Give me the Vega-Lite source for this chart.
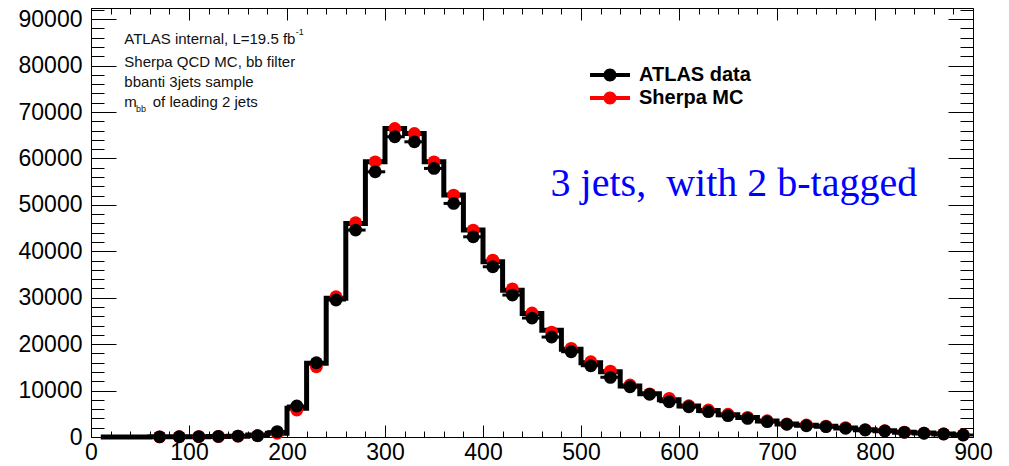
{
  "$schema": "https://vega.github.io/schema/vega-lite/v6.json",
  "width": 882,
  "height": 429,
  "autosize": "none",
  "padding": {"left": 91, "top": 8, "right": 36, "bottom": 29},
  "background": "white",
  "config": {
    "font": "Liberation Sans",
    "view": {"stroke": "black", "strokeWidth": 1},
    "axis": {"grid": false, "domainColor": "black", "tickColor": "black", "tickWidth": 1, "labelColor": "black", "labelFont": "Liberation Sans", "labelFontSize": 23, "title": null, "labelFlush": false, "labelOverlap": false}
  },
  "data": {"values": [
    {"m": 10, "hist": 0},
    {"m": 30, "hist": 0},
    {"m": 50, "hist": 0},
    {"m": 70, "data": 40, "mc": 30, "hist": 30},
    {"m": 90, "data": 60, "mc": 50, "hist": 50},
    {"m": 110, "data": 90, "mc": 80, "hist": 80},
    {"m": 130, "data": 130, "mc": 110, "hist": 110},
    {"m": 150, "data": 200, "mc": 180, "hist": 180},
    {"m": 170, "data": 280, "mc": 260, "hist": 430},
    {"m": 190, "data": 1150, "mc": 800, "hist": 800},
    {"m": 210, "data": 6670, "mc": 5810, "hist": 6170},
    {"m": 230, "data": 16000, "mc": 15140, "hist": 15870},
    {"m": 250, "data": 29500, "mc": 30200, "hist": 29860},
    {"m": 270, "data": 44570, "mc": 46140, "hist": 46000},
    {"m": 290, "data": 57120, "mc": 59270, "hist": 59270},
    {"m": 310, "data": 64660, "mc": 66460, "hist": 66460},
    {"m": 330, "data": 63580, "mc": 65380, "hist": 65380},
    {"m": 350, "data": 57850, "mc": 59270, "hist": 59270},
    {"m": 370, "data": 50310, "mc": 52100, "hist": 52100},
    {"m": 390, "data": 43120, "mc": 44570, "hist": 44570},
    {"m": 410, "data": 36670, "mc": 38110, "hist": 37750},
    {"m": 430, "data": 30570, "mc": 31900, "hist": 31600},
    {"m": 450, "data": 25620, "mc": 26700, "hist": 26600},
    {"m": 470, "data": 21530, "mc": 22600, "hist": 23000},
    {"m": 490, "data": 18360, "mc": 19100, "hist": 18880},
    {"m": 510, "data": 15350, "mc": 16200, "hist": 16000},
    {"m": 530, "data": 12850, "mc": 14200, "hist": 14060},
    {"m": 550, "data": 10830, "mc": 11200, "hist": 11000},
    {"m": 570, "data": 9190, "mc": 9300, "hist": 9300},
    {"m": 590, "data": 7600, "mc": 8330, "hist": 8000},
    {"m": 610, "data": 6520, "mc": 6740, "hist": 6700},
    {"m": 630, "data": 5450, "mc": 5810, "hist": 5700},
    {"m": 650, "data": 4590, "mc": 4890, "hist": 4800},
    {"m": 670, "data": 4020, "mc": 4240, "hist": 4200},
    {"m": 690, "data": 3300, "mc": 3510, "hist": 3450},
    {"m": 710, "data": 2730, "mc": 2800, "hist": 2800},
    {"m": 730, "data": 2430, "mc": 2580, "hist": 2550},
    {"m": 750, "data": 2220, "mc": 2350, "hist": 2300},
    {"m": 770, "data": 1870, "mc": 1990, "hist": 1950},
    {"m": 790, "data": 1510, "mc": 1600, "hist": 1580},
    {"m": 810, "data": 1290, "mc": 1350, "hist": 1330},
    {"m": 830, "data": 1010, "mc": 1050, "hist": 1050},
    {"m": 850, "data": 800, "mc": 850, "hist": 840},
    {"m": 870, "data": 650, "mc": 680, "hist": 670},
    {"m": 890, "data": 430, "mc": 450, "hist": 450}
  ]},
  "resolve": {"axis": {"x": "independent", "y": "independent"}},
  "layer": [
    {
      "mark": {"type": "line", "interpolate": "step", "color": "black", "strokeWidth": 5},
      "encoding": {
        "x": {"field": "m", "type": "quantitative", "scale": {"domain": [0, 900], "nice": false, "zero": false},
          "axis": {"orient": "bottom", "values": [0,20,40,60,80,100,120,140,160,180,200,220,240,260,280,300,320,340,360,380,400,420,440,460,480,500,520,540,560,580,600,620,640,660,680,700,720,740,760,780,800,820,840,860,880,900],
            "format": "d", "labelExpr": "datum.value % 100 === 0 ? datum.label : ''",
            "tickSize": {"condition": {"test": "datum.value % 100 === 0", "value": -12}, "value": -6},
            "labelPadding": 16}},
        "y": {"field": "hist", "type": "quantitative", "scale": {"domain": [0, 92400], "nice": false},
          "axis": {"orient": "left", "values": [0,2000,4000,6000,8000,10000,12000,14000,16000,18000,20000,22000,24000,26000,28000,30000,32000,34000,36000,38000,40000,42000,44000,46000,48000,50000,52000,54000,56000,58000,60000,62000,64000,66000,68000,70000,72000,74000,76000,78000,80000,82000,84000,86000,88000,90000,92000],
            "format": "d", "labelExpr": "datum.value % 10000 === 0 ? datum.label : ''",
            "tickSize": {"condition": {"test": "datum.value % 10000 === 0", "value": -25}, "value": -13},
            "labelPadding": 34}}
      }
    },
    {
      "mark": {"type": "tick", "orient": "horizontal", "color": "black", "opacity": 1, "thickness": 3, "size": 20},
      "encoding": {
        "x": {"field": "m", "type": "quantitative", "axis": null},
        "y": {"field": "data", "type": "quantitative", "axis": null}
      }
    },
    {
      "transform": [{"fold": ["data", "mc"], "as": ["series", "value"]}],
      "mark": {"type": "point", "filled": true, "opacity": 1, "strokeWidth": 0},
      "encoding": {
        "x": {"field": "m", "type": "quantitative",
          "axis": {"orient": "top", "labels": false, "domain": false, "values": [0,20,40,60,80,100,120,140,160,180,200,220,240,260,280,300,320,340,360,380,400,420,440,460,480,500,520,540,560,580,600,620,640,660,680,700,720,740,760,780,800,820,840,860,880,900],
            "tickSize": {"condition": {"test": "datum.value % 100 === 0", "value": -12}, "value": -6}}},
        "y": {"field": "value", "type": "quantitative",
          "axis": {"orient": "right", "labels": false, "domain": false, "values": [0,2000,4000,6000,8000,10000,12000,14000,16000,18000,20000,22000,24000,26000,28000,30000,32000,34000,36000,38000,40000,42000,44000,46000,48000,50000,52000,54000,56000,58000,60000,62000,64000,66000,68000,70000,72000,74000,76000,78000,80000,82000,84000,86000,88000,90000,92000],
            "tickSize": {"condition": {"test": "datum.value % 10000 === 0", "value": -25}, "value": -13}}},
        "color": {"field": "series", "type": "nominal",
          "scale": {"domain": ["data", "mc"], "range": ["#000000", "#ff0000"]},
          "legend": {"orient": "none", "legendX": 506, "legendY": 54, "title": null, "padding": 0,
            "symbolType": "M-1.538,-0.154H1.538V0.154H-1.538Z M-0.5,0A0.5,0.5,0,1,1,0.5,0A0.5,0.5,0,1,1,-0.5,0Z",
            "symbolSize": 676, "symbolStrokeWidth": 0, "symbolOpacity": 1,
            "labelFont": "Liberation Sans", "labelFontWeight": "bold", "labelFontSize": 20, "labelColor": "black",
            "labelOffset": 16, "rowPadding": 0,
            "labelExpr": "datum.label === 'data' ? 'ATLAS data' : 'Sherpa MC'"}},
        "size": {"value": 165},
        "order": {"field": "series", "sort": "descending"}
      }
    },
    {
      "data": {"values": [{"t": "3 jets,\u00a0 with 2 b-tagged"}]},
      "mark": {"type": "text", "font": "Liberation Serif", "fontSize": 40, "color": "#0000ff", "align": "left", "baseline": "middle"},
      "encoding": {
        "x": {"datum": 469, "type": "quantitative", "axis": null},
        "y": {"datum": 54500, "type": "quantitative", "axis": null},
        "text": {"field": "t"}
      }
    },
    {
      "data": {"values": [{"t": "ATLAS internal, L=19.5 fb"}]},
      "mark": {"type": "text", "fontSize": 15, "color": "#111111", "align": "left", "baseline": "middle"},
      "encoding": {
        "x": {"datum": 34, "type": "quantitative", "axis": null},
        "y": {"datum": 85700, "type": "quantitative", "axis": null},
        "text": {"field": "t"}
      }
    },
    {
      "data": {"values": [{"t": "-1"}]},
      "mark": {"type": "text", "fontSize": 9, "color": "#111111", "align": "left", "baseline": "middle"},
      "encoding": {
        "x": {"datum": 209, "type": "quantitative", "axis": null},
        "y": {"datum": 87300, "type": "quantitative", "axis": null},
        "text": {"field": "t"}
      }
    },
    {
      "data": {"values": [{"t": "Sherpa QCD MC, bb filter"}]},
      "mark": {"type": "text", "fontSize": 15, "color": "#111111", "align": "left", "baseline": "middle"},
      "encoding": {
        "x": {"datum": 34, "type": "quantitative", "axis": null},
        "y": {"datum": 80740, "type": "quantitative", "axis": null},
        "text": {"field": "t"}
      }
    },
    {
      "data": {"values": [{"t": "bbanti 3jets sample"}]},
      "mark": {"type": "text", "fontSize": 15, "color": "#111111", "align": "left", "baseline": "middle"},
      "encoding": {
        "x": {"datum": 34, "type": "quantitative", "axis": null},
        "y": {"datum": 76430, "type": "quantitative", "axis": null},
        "text": {"field": "t"}
      }
    },
    {
      "data": {"values": [{"t": "m"}]},
      "mark": {"type": "text", "fontSize": 15, "color": "#111111", "align": "left", "baseline": "middle"},
      "encoding": {
        "x": {"datum": 34, "type": "quantitative", "axis": null},
        "y": {"datum": 72130, "type": "quantitative", "axis": null},
        "text": {"field": "t"}
      }
    },
    {
      "data": {"values": [{"t": "bb"}]},
      "mark": {"type": "text", "fontSize": 9, "color": "#111111", "align": "left", "baseline": "middle"},
      "encoding": {
        "x": {"datum": 46, "type": "quantitative", "axis": null},
        "y": {"datum": 70700, "type": "quantitative", "axis": null},
        "text": {"field": "t"}
      }
    },
    {
      "data": {"values": [{"t": "of leading 2 jets"}]},
      "mark": {"type": "text", "fontSize": 15, "color": "#111111", "align": "left", "baseline": "middle"},
      "encoding": {
        "x": {"datum": 63, "type": "quantitative", "axis": null},
        "y": {"datum": 72130, "type": "quantitative", "axis": null},
        "text": {"field": "t"}
      }
    }
  ]
}
